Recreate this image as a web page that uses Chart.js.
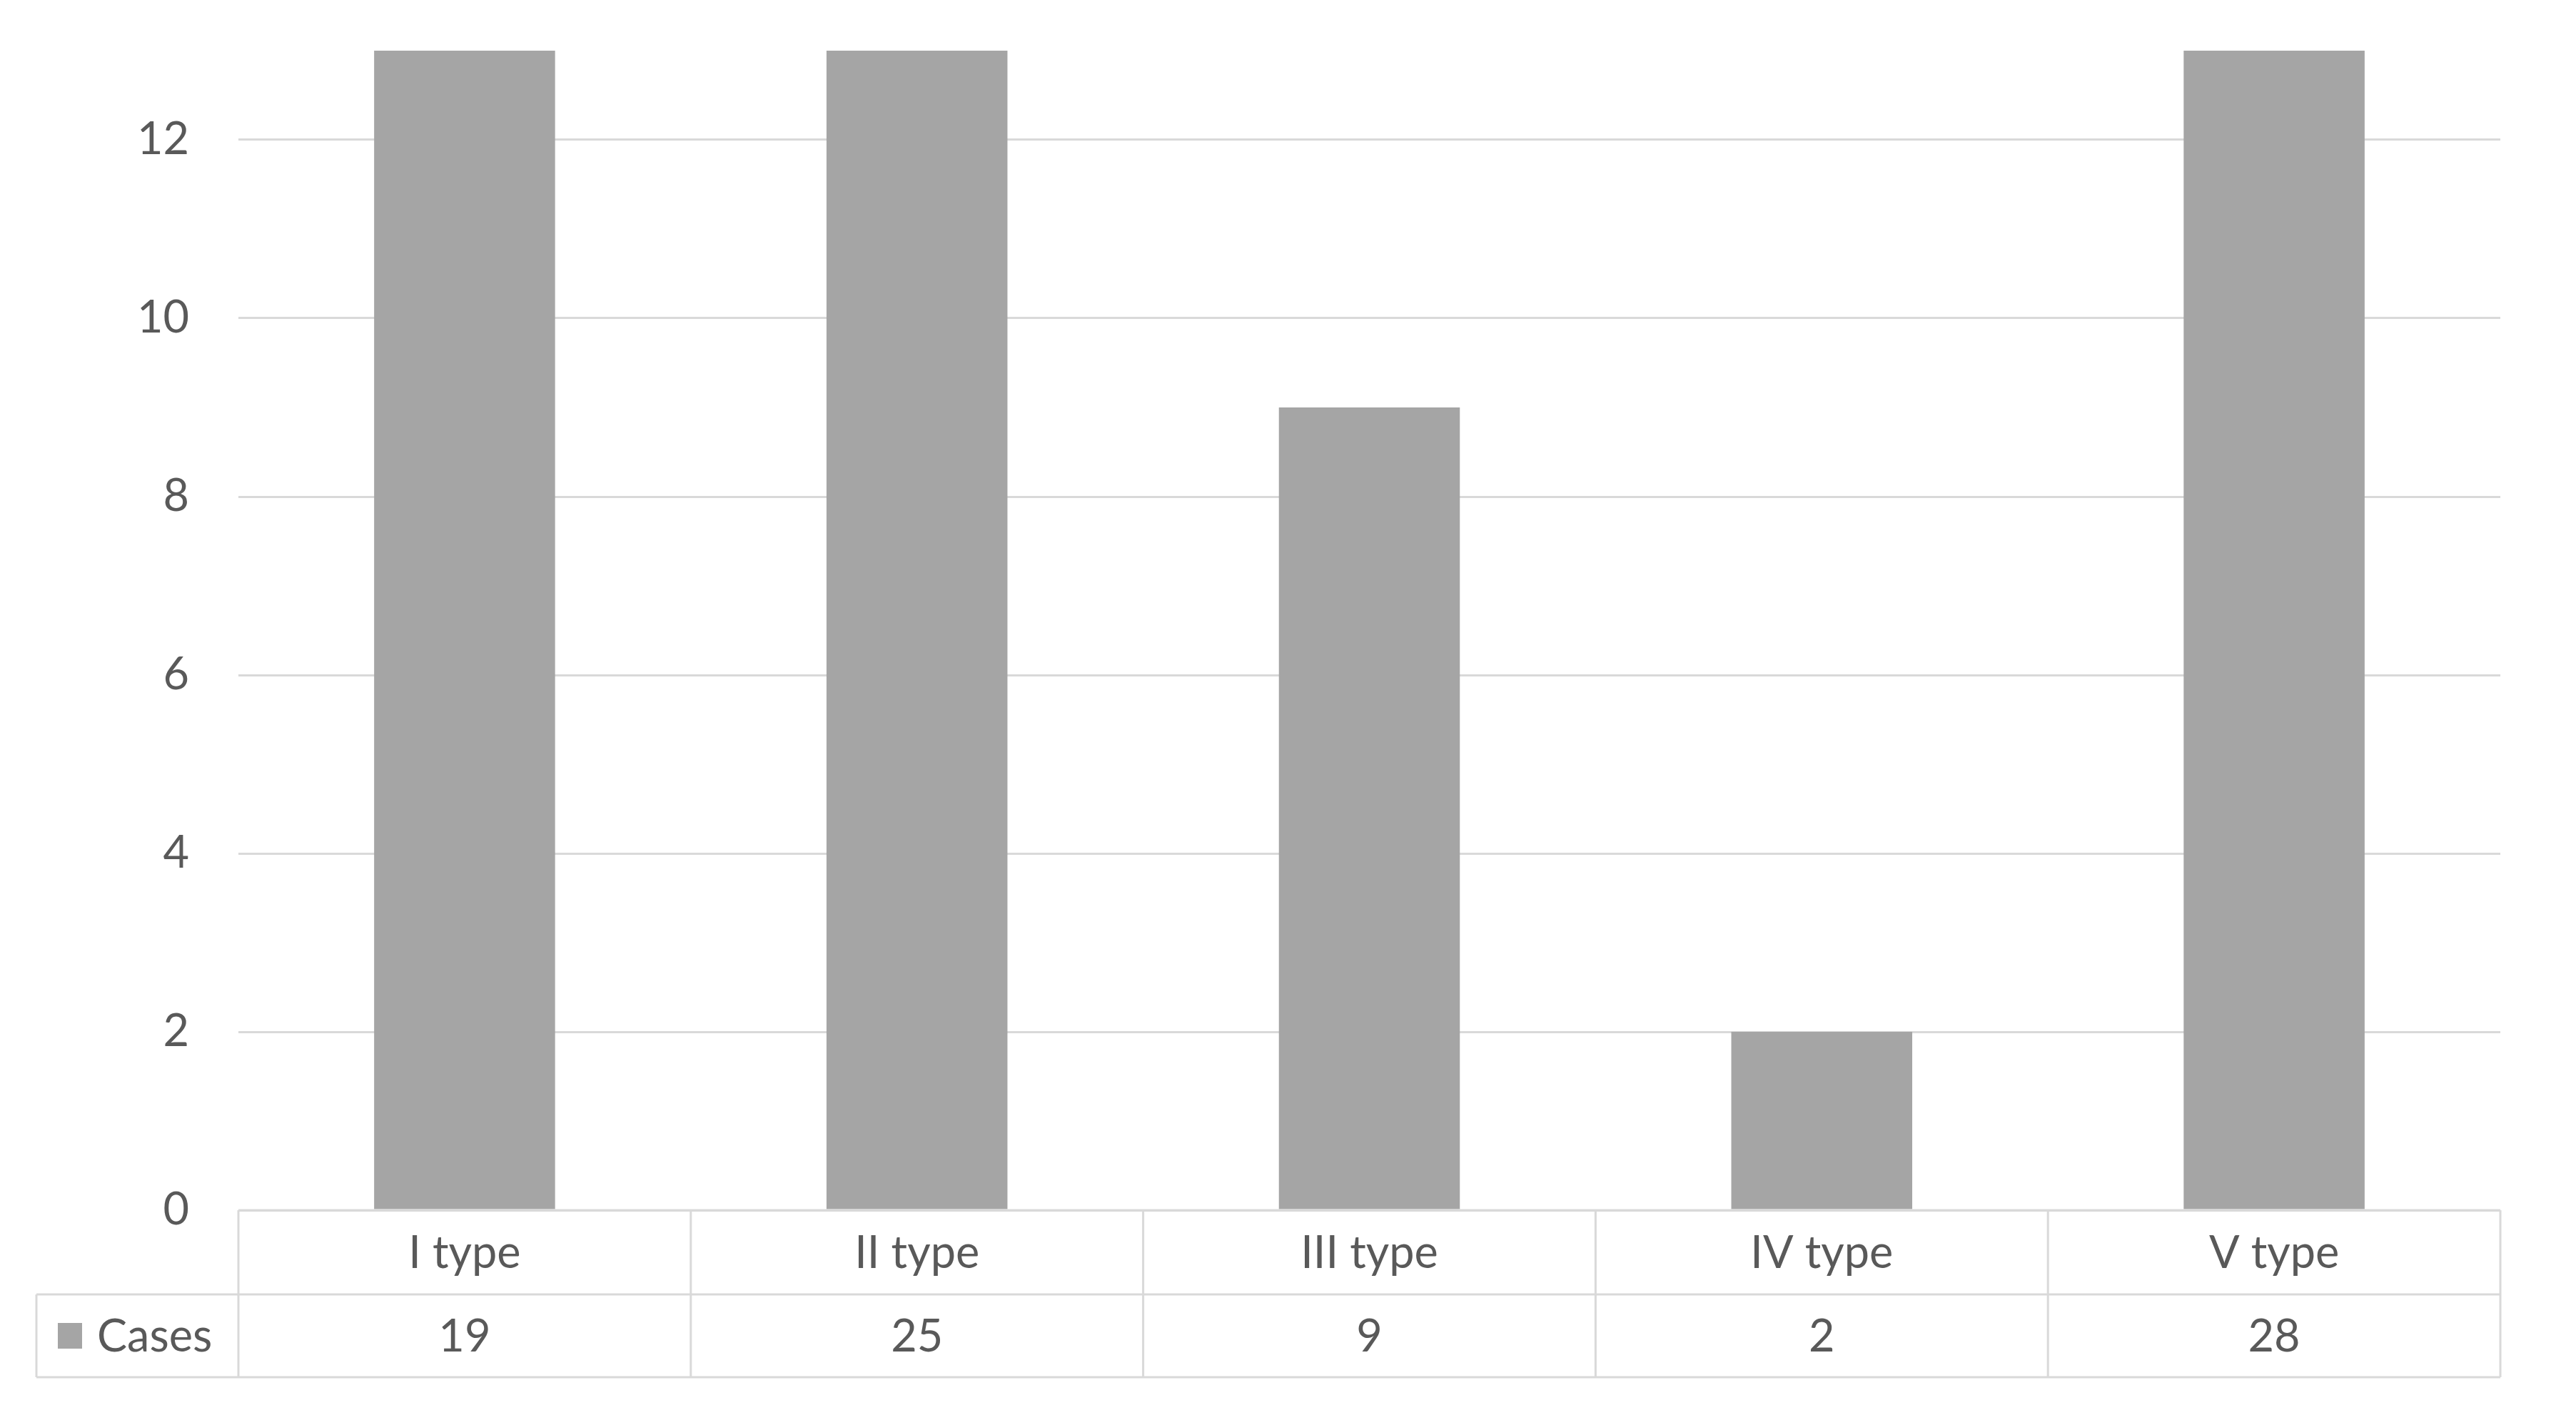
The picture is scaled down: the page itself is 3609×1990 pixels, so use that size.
<!DOCTYPE html>
<html>
<head>
<meta charset="utf-8">
<script src="https://cdn.jsdelivr.net/npm/chart.js@4.4.1/dist/chart.umd.min.js"></script>
<style>
html,body{margin:0;padding:0;background:#fff;}
#wrap{width:3609px;height:1990px;position:relative;}
</style>
</head>
<body>
<div id="wrap"><canvas id="c" width="3609" height="1990"></canvas></div>
<script>
const categories = ["I type", "II type", "III type", "IV type", "V type"];
const seriesName = "Cases";
const cases = [19, 25, 9, 2, 28];
const yTicks = [0, 2, 4, 6, 8, 10, 12];
const yMax = 13;

const FONT = "Lato, 'Open Sans', sans-serif";
const FS = 63;
const TEXT = "#595959";
const LINE = "#d9d9d9";
const BAR = "#a5a5a5";

const tablePlugin = {
  id: 'dataTable',
  afterDraw(chart) {
    const ctx = chart.ctx;
    const x = chart.scales.x;
    const area = chart.chartArea;
    const n = categories.length;
    const left = area.left, right = area.right;
    const catW = (right - left) / n;
    const y0 = area.bottom, y1 = y0 + 118, y2 = y1 + 116;
    const legLeft = 51;
    ctx.save();
    ctx.strokeStyle = LINE;
    ctx.lineWidth = 3;
    ctx.beginPath();
    ctx.moveTo(left, y0); ctx.lineTo(right, y0);
    ctx.moveTo(legLeft, y1); ctx.lineTo(right, y1);
    ctx.moveTo(legLeft, y2); ctx.lineTo(right, y2);
    ctx.moveTo(legLeft, y1); ctx.lineTo(legLeft, y2);
    for (let k = 0; k <= n; k++) {
      const xx = left + catW * k;
      ctx.moveTo(xx, y0); ctx.lineTo(xx, y2);
    }
    ctx.stroke();
    ctx.fillStyle = TEXT;
    ctx.font = FS + "px " + FONT;
    ctx.textAlign = "center";
    ctx.textBaseline = "middle";
    categories.forEach((c, i) => {
      const cx = x.getPixelForValue(i);
      ctx.fillText(c, cx, (y0 + y1) / 2 + 2);
      ctx.fillText(String(cases[i]), cx, (y1 + y2) / 2 + 2);
    });
    ctx.fillStyle = BAR;
    ctx.fillRect(81, (y1 + y2) / 2 - 18, 34, 36);
    ctx.fillStyle = TEXT;
    ctx.textAlign = "left";
    ctx.fillText(seriesName, 136, (y1 + y2) / 2 + 2);
    ctx.restore();
  }
};

new Chart(document.getElementById('c'), {
  type: 'bar',
  data: {
    labels: categories,
    datasets: [{
      label: seriesName,
      data: cases,
      backgroundColor: BAR,
      borderWidth: 0,
      categoryPercentage: 1.0,
      barPercentage: 0.4
    }]
  },
  options: {
    responsive: false,
    animation: false,
    devicePixelRatio: 1,
    layout: { padding: { left: 0, top: 71, right: 106, bottom: 294 } },
    plugins: { legend: { display: false }, tooltip: { enabled: false } },
    scales: {
      x: { display: false, grid: { display: false }, offset: true },
      y: {
        min: 0, max: yMax,
        afterBuildTicks(scale) { scale.ticks = yTicks.map(v => ({ value: v })); },
        afterFit(scale) { scale.width = 334; scale.paddingTop = 0; scale.paddingBottom = 0; },
        border: { display: false },
        grid: { color: LINE, lineWidth: 3, drawTicks: false },
        ticks: { color: TEXT, font: { family: FONT, size: FS }, padding: 69 }
      }
    }
  },
  plugins: [tablePlugin]
});
</script>
</body>
</html>
